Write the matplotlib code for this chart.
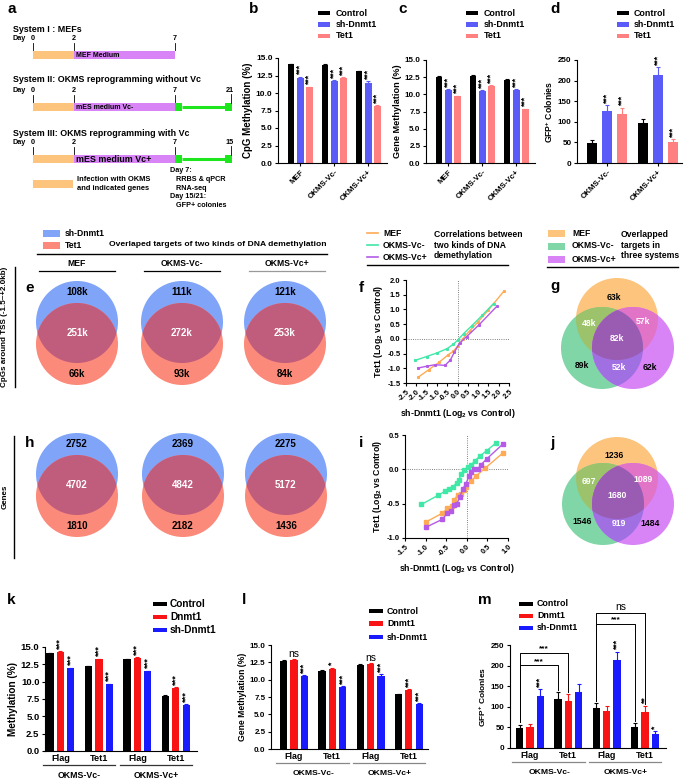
import numpy as np
import matplotlib
matplotlib.use("Agg")
import matplotlib.pyplot as plt
from matplotlib.patches import Circle, Rectangle, Polygon
import matplotlib.transforms as mtransforms

plt.rcParams.update({
    "font.family": ["Liberation Sans", "DejaVu Sans"],
    "font.weight": "bold",
    "axes.labelweight": "bold",
    "axes.linewidth": 0.8,
    "mathtext.fontset": "custom",
    "mathtext.rm": "Liberation Sans:bold",
    "mathtext.bf": "Liberation Sans:bold",
    "mathtext.it": "Liberation Sans:bold",
    "mathtext.default": "bf",
    "xtick.major.size": 2.5, "ytick.major.size": 2.5,
    "xtick.major.width": 0.8, "ytick.major.width": 0.8,
    "xtick.labelsize": 5.5, "ytick.labelsize": 5.5,
    "xtick.major.pad": 1.5, "ytick.major.pad": 1.5,
})

# ---------------- data ----------------
# a: schematic
a_titles = ["System I : MEFs", "System II: OKMS reprogramming without Vc",
            "System III: OKMS reprogramming with Vc"]
a_media = ["MEF Medium", "mES medium Vc-", "mES medium Vc+"]
a_days = [0, 2, 7]
a_end_day = [None, 21, 15]

# b: CpG methylation (%)
b_groups = ["MEF", "OKMS-Vc-", "OKMS-Vc+"]
b_ctrl = [14.1, 14.0, 13.1]
b_sh = [12.2, 11.7, 11.5]
b_tet = [10.8, 12.1, 8.1]
b_err = [[0.1, 0.1, 0.1], [0.12, 0.12, 0.15], [0.1, 0.12, 0.12]]

# c: gene methylation (%)
c_ctrl = [12.5, 12.6, 12.1]
c_sh = [10.6, 10.5, 10.6]
c_tet = [9.7, 11.2, 7.8]
c_err = [[0.2, 0.15, 0.15], [0.15, 0.12, 0.12], [0.1, 0.15, 0.1]]

# d: GFP+ colonies
d_groups = ["OKMS-Vc-", "OKMS-Vc+"]
d_ctrl = [48, 98]
d_sh = [127, 213]
d_tet = [120, 50]
d_err = [[8, 10], [13, 20], [14, 8]]

# e / h: two-set venns (sh-Dnmt1 only, both, Tet1 only)
venn_systems = ["MEF", "OKMS-Vc-", "OKMS-Vc+"]
e_sh_only = ["108k", "111k", "121k"]
e_both = ["251k", "272k", "253k"]
e_tet_only = ["66k", "93k", "84k"]
h_sh_only = ["2752", "2369", "2275"]
h_both = ["4702", "4842", "5172"]
h_tet_only = ["1810", "2182", "1436"]

# g / j: three-set venns
# order: MEF only, MEF&Vc-, MEF&Vc+, all, Vc- only, Vc-&Vc+, Vc+ only
g_counts = ["63k", "48k", "57k", "82k", "89k", "52k", "62k"]
j_counts = ["1236", "697", "1089", "1680", "1546", "919", "1484"]

# f: correlation CpGs
f_mef_x = [-1.9, -1.4, -0.9, -0.45, -0.2, 0.0, 0.25, 0.6, 1.0, 1.5, 2.25]
f_mef_y = [-1.3, -1.05, -0.8, -0.54, -0.42, -0.25, 0.0, 0.28, 0.58, 0.98, 1.62]
f_vcm_x = [-2.05, -1.5, -1.0, -0.5, -0.2, 0.0, 0.3, 0.7, 1.2, 1.75]
f_vcm_y = [-0.73, -0.6, -0.48, -0.33, -0.18, -0.05, 0.18, 0.45, 0.8, 1.2]
f_vcp_x = [-1.9, -1.5, -1.1, -0.6, -0.35, -0.15, 0.1, 0.45, 1.05, 1.9]
f_vcp_y = [-0.99, -0.93, -0.88, -0.9, -0.72, -0.45, -0.15, 0.08, 0.48, 1.1]

# i: correlation genes
i_mef_x = [-1.0, -0.6, -0.47, -0.37, -0.3, -0.22, -0.15, -0.08, -0.02, 0.1, 0.22, 0.45, 0.88]
i_mef_y = [-0.77, -0.64, -0.57, -0.53, -0.44, -0.37, -0.36, -0.3, -0.25, -0.17, -0.1, 0.02, 0.24]
i_vcm_x = [-1.1, -0.7, -0.53, -0.42, -0.33, -0.25, -0.19, -0.14, -0.06, 0.02, 0.1, 0.19, 0.31, 0.48, 0.7]
i_vcm_y = [-0.51, -0.38, -0.32, -0.28, -0.25, -0.2, -0.16, -0.07, -0.01, 0.03, 0.06, 0.12, 0.19, 0.27, 0.38]
i_vcp_x = [-0.98, -0.6, -0.47, -0.38, -0.3, -0.24, -0.17, -0.1, -0.02, 0.05, 0.1, 0.18, 0.26, 0.35, 0.48, 0.88]
i_vcp_y = [-0.84, -0.73, -0.64, -0.61, -0.52, -0.5, -0.4, -0.29, -0.21, -0.1, -0.04, 0.0, 0.0, 0.07, 0.15, 0.37]

# k / l / m
klm_groups = ["Flag", "Tet1", "Flag", "Tet1"]
klm_systems = ["OKMS-Vc-", "OKMS-Vc+"]
k_ctrl = [14.1, 12.2, 13.2, 8.0]
k_dn = [14.3, 13.2, 13.4, 9.1]
k_sh = [11.9, 9.6, 11.5, 6.7]
k_err = [[0.1, 0.1, 0.1, 0.1], [0.12, 0.12, 0.12, 0.1], [0.1, 0.1, 0.1, 0.08]]
l_ctrl = [12.7, 11.2, 12.1, 7.9]
l_dn = [12.8, 11.5, 12.3, 8.5]
l_sh = [10.5, 8.9, 10.6, 6.5]
l_err = [[0.2, 0.15, 0.15, 0.1], [0.2, 0.2, 0.15, 0.15], [0.15, 0.12, 0.15, 0.1]]
m_ctrl = [48, 119, 98, 51]
m_dn = [51, 115, 90, 87]
m_sh = [127, 135, 213, 34]
m_err = [[9, 16, 11, 9], [7, 15, 13, 16], [15, 20, 21, 7]]
# brackets: (group a, series a, group b, series b, height, label)
m_brackets = [(0, 0, 1, 0, 201, "***"), (0, 0, 1, 1, 231, "***"),
              (2, 0, 3, 0, 301, "***"), (2, 0, 3, 1, 328, "ns")]

# colours
SH_BLUE = "#5b5bf7"
TET = "#ff8080"
RED = "#f81414"
BLUE = "#1a1aff"
VB, VS, VM = "#80a4f8", "#fb8a7a", "#c05c7c"
VO, VG, VP = "#fcc47c", "#80d6a6", "#d884f6"
OG, OP, GP, OGP = "#9cc26c", "#e274c8", "#a070e2", "#9a5cb2"
LO, LG, LP = "#ffaa55", "#40e8a8", "#b45ae6"

W, H = 685, 780
fig = plt.figure(figsize=(W / 100, H / 100), dpi=100)

# overlay in pixel coordinates for schematic, venns and labels
ov = fig.add_axes([0, 0, 1, 1])
ov.set_xlim(0, W)
ov.set_ylim(H, 0)
ov.axis("off")


def add_px(l, t, r, b):
    ax = fig.add_axes([l / W, 1 - b / H, (r - l) / W, (b - t) / H])
    ax.set_facecolor("none")
    ax.spines["top"].set_visible(False)
    ax.spines["right"].set_visible(False)
    return ax


def letter(x, y, s):
    ov.text(x, y, s, fontsize=11, fontweight="bold", va="baseline", ha="left")


def legend_px(x, ys, labels, colors, tx, w=12, h=4.5, fs=6, line=False):
    for y, lab, col in zip(ys, labels, colors):
        if line:
            ov.plot([x, x + w], [y, y], color=col, lw=1.2)
        else:
            ov.add_patch(Rectangle((x, y - h / 2), w, h, fc=col, ec="none"))
        ov.text(tx, y, lab, va="center", ha="left", fontsize=fs)


def bar_panel(ax, series, errs, colors, sigs, pitch, width, sig_fs=6.3):
    x = np.arange(len(series[0]))
    n = len(series)
    for k in range(n):
        pos = x + (k - (n - 1) / 2) * pitch
        vals = np.array(series[k], float)
        err = np.array(errs[k], float)
        ax.bar(pos, vals, width, color=colors[k], zorder=2,
               yerr=[np.zeros_like(err), err], ecolor=colors[k],
               error_kw=dict(elinewidth=0.8, capsize=1.5, capthick=0.8))
        if sigs[k] is None:
            continue
        for p, v, e, s in zip(pos, vals, err, sigs[k]):
            if not s:
                continue
            if s == "ns":
                ax.annotate(s, (p, v + e), xytext=(0, 0), textcoords="offset points",
                            ha="center", va="bottom", fontsize=7.5, fontweight="normal")
            else:
                ax.annotate(s, (p, v + e), xytext=(0, 1), textcoords="offset points",
                            ha="center", va="bottom", fontsize=sig_fs, rotation=90)
    return x


def pct_axis(ax, fs):
    ticks = np.arange(0, 15.1, 2.5)
    ax.set_ylim(0, 15)
    ax.set_yticks(ticks)
    ax.set_yticklabels([f"{v:.1f}" for v in ticks], fontsize=fs)


# ---------------- panel a ----------------
letter(8, 13, "a")
day_px = lambda d: 33 + 20.3 * d
rows = [(29, 39, 51), (80, 91, 103), (133, 143, 155)]
for (ty, dy, by), title, med, end in zip(rows, a_titles, a_media, a_end_day):
    ov.text(13, ty, title, fontsize=6.4, va="center")
    ov.text(13, dy, "Day", fontsize=5.2, va="center")
    for d in a_days:
        ov.text(day_px(d), dy, str(d), fontsize=5.2, va="center", ha="center")
        ov.plot([day_px(d), day_px(d)], [dy + 4, by - 1], color="k", lw=0.6)
    ov.add_patch(Rectangle((day_px(0), by), day_px(2) - day_px(0), 8, fc=VO, ec="none"))
    ov.add_patch(Rectangle((day_px(2), by), day_px(7) - day_px(2), 8, fc=VP, ec="none"))
    big = med.endswith("+")
    ov.text(day_px(2) + 2, by + 4.3, med, fontsize=6.4 if big else 5.0, va="center")
    if end is not None:
        g0 = day_px(7)
        ov.add_patch(Rectangle((g0, by), 7, 8, fc="#1ee61e", ec="none"))
        ov.plot([g0 + 7, 226], [by + 4, by + 4], color="#1ee61e", lw=2.2, solid_capstyle="butt")
        ov.add_patch(Rectangle((225, by), 7, 8, fc="#1ee61e", ec="none"))
        ov.text(230, dy - 1, str(end), fontsize=5.2, va="center", ha="center")
        ov.plot([231, 231], [dy + 3, by], color="k", lw=0.6)
ov.add_patch(Rectangle((33, 180), 40, 8, fc=VO, ec="none"))
ov.text(77, 184, "Infection with OKMS\nand indicated genes", fontsize=5.4, va="center",
        linespacing=1.3)
ov.text(170, 188, "Day 7:\n   RRBS & qPCR\n   RNA-seq\nDay 15/21:\n   GFP+ colonies",
        fontsize=5.2, va="center", linespacing=1.35)

# ---------------- panels b, c, d ----------------
for (lx, rx, tx, lab) in [(249, 318, 336, "b"), (398, 466, 484, "c"), (550, 617, 634, "d")]:
    letter(lx, 13, lab)
    legend_px(rx, [13, 24.5, 36], ["Control", "sh-Dnmt1", "Tet1"], ["k", SH_BLUE, TET], tx,
              fs=6.4)

stars3 = ["***"] * 3
ax_b = add_px(278, 58, 387, 163)
x = bar_panel(ax_b, [b_ctrl, b_sh, b_tet], b_err, ["k", SH_BLUE, TET],
              [None, stars3, stars3], 0.27, 0.2)
ax_b.set_xlim(-0.65, 2.55)
pct_axis(ax_b, 6)
ax_b.set_xticks(x)
ax_b.set_xticklabels(b_groups, rotation=45, ha="right", rotation_mode="anchor", fontsize=5.7)
ax_b.set_ylabel("CpG Methylation (%)", fontsize=7, labelpad=2)

ax_c = add_px(426, 60, 535, 163)
x = bar_panel(ax_c, [c_ctrl, c_sh, c_tet], c_err, ["k", SH_BLUE, TET],
              [None, stars3, stars3], 0.27, 0.2)
ax_c.set_xlim(-0.65, 2.55)
pct_axis(ax_c, 5.8)
ax_c.set_xticks(x)
ax_c.set_xticklabels(b_groups, rotation=45, ha="right", rotation_mode="anchor", fontsize=5.7)
ax_c.set_ylabel("Gene Methylation (%)", fontsize=6.6, labelpad=2)

ax_d = add_px(577, 60, 682, 163)
x = bar_panel(ax_d, [d_ctrl, d_sh, d_tet], d_err, ["k", SH_BLUE, TET],
              [None, ["***"] * 2, ["***"] * 2], 0.29, 0.2)
ax_d.set_xlim(-0.59, 1.47)
ax_d.set_ylim(0, 250)
ax_d.set_yticks(np.arange(0, 251, 50))
ax_d.tick_params(axis="y", labelsize=5.8)
ax_d.set_xticks(x)
ax_d.set_xticklabels(d_groups, rotation=45, ha="right", rotation_mode="anchor", fontsize=5.7)
ax_d.set_ylabel("GFP$^{+}$ Colonies", fontsize=6.2, labelpad=2)

# ---------------- e / h header ----------------
legend_px(43, [233.5, 245], ["sh-Dnmt1", "Tet1"], [VB, VS], 65, w=17, h=7, fs=6.2)
ov.text(218, 244, "Overlaped targets of two kinds of DNA demethylation", fontsize=6.1,
        ha="center", va="center")
ov.plot([37, 327], [254, 254], color="k", lw=1.0)
for cx, name, col in zip([77, 182, 287], venn_systems, ["k", "k", "#999999"]):
    ov.text(cx, 263, name, fontsize=6.2, ha="center", va="center")
    ov.plot([cx - 38, cx + 38], [271, 271], color=col, lw=0.9)
ov.plot([15, 15], [267, 387], color="k", lw=1.0)
ov.text(5, 327, "CpGs around TSS (-1.5~+2.0kb)", fontsize=5.8, rotation=90,
        ha="center", va="center")
ov.plot([14, 14], [436, 558], color="k", lw=1.0)
ov.text(5, 497, "Genes", fontsize=5.8, rotation=90, ha="center", va="center")
letter(25, 292, "e")
letter(25, 447, "h")


def venn2(cx, cy_top, cy_bot, r, top_lab, mid_lab, bot_lab):
    top = Circle((cx, cy_top), r, fc=VB, ec="none")
    bot = Circle((cx, cy_bot), r, fc=VS, ec="none")
    ov.add_patch(top)
    ov.add_patch(bot)
    mid = Circle((cx, cy_bot), r, fc=VM, ec="none")
    ov.add_patch(mid)
    mid.set_clip_path(top)
    ov.text(cx, cy_top - 30, top_lab, fontsize=7, ha="center", va="center")
    ov.text(cx, (cy_top + cy_bot) / 2, mid_lab, fontsize=7, ha="center", va="center",
            color="white")
    ov.text(cx, cy_bot + 30, bot_lab, fontsize=7, ha="center", va="center")


for cx, a1, a2, a3 in zip([77, 182, 285], e_sh_only, e_both, e_tet_only):
    venn2(cx, 322, 344, 41, a1, a2, a3)
for cx, a1, a2, a3 in zip([77, 183, 286], h_sh_only, h_both, h_tet_only):
    venn2(cx, 474, 496, 41, a1, a2, a3)

# ---------------- f / i ----------------
legend_px(367, [233, 245, 257], venn_systems, [LO, LG, LP], 383, w=11, fs=6.2, line=True)
ov.text(434, 245, "Correlations between\ntwo kinds of DNA\ndemethylation", fontsize=6.2,
        va="center", linespacing=1.15)
ov.plot([367, 508], [265, 265], color="k", lw=1.0)
letter(359, 292, "f")
letter(359, 447, "i")


def corr_panel(ax, lines, xt, yt, ms):
    ax.axhline(0, color="#555555", lw=0.6, ls=":", zorder=1)
    ax.axvline(0, color="#555555", lw=0.6, ls=":", zorder=1)
    for xs, ys, col in lines:
        ax.plot(xs, ys, color=col, lw=1.0, marker="s", ms=ms, zorder=3)
    ax.set_xlim(xt[0], xt[-1])
    ax.set_ylim(yt[0], yt[-1])
    ax.set_xticks(xt)
    ax.set_xticklabels([f"{v:.1f}" for v in xt], rotation=45, ha="right",
                       rotation_mode="anchor", fontsize=5.3)
    ax.set_yticks(yt)
    ax.set_yticklabels([f"{v:.1f}" for v in yt], fontsize=5.5)
    ax.set_xlabel("sh-Dnmt1 (Log$_2$ vs Control)", fontsize=6.3, labelpad=3)
    ax.set_ylabel("Tet1 (Log$_2$ vs Control)", fontsize=6.3, labelpad=2)


ax_f = add_px(406, 280, 509, 383)
corr_panel(ax_f, [(f_mef_x, f_mef_y, LO), (f_vcm_x, f_vcm_y, LG), (f_vcp_x, f_vcp_y, LP)],
           np.arange(-2.5, 2.51, 0.5), np.arange(-1.5, 2.01, 0.5), 1.2)
ax_i = add_px(405, 435, 508, 538)
corr_panel(ax_i, [(i_mef_x, i_mef_y, LO), (i_vcm_x, i_vcm_y, LG), (i_vcp_x, i_vcp_y, LP)],
           np.arange(-1.5, 1.01, 0.5), np.arange(-1.0, 0.51, 0.5), 2.2)

# ---------------- g / j ----------------
legend_px(548, [233, 246, 259], venn_systems, [VO, VG, VP], 572, w=17, h=7, fs=6.2)
ov.text(621, 245, "Overlapped\ntargets in\nthree systems", fontsize=6.2, va="center",
        linespacing=1.15)
ov.plot([547, 678], [267, 267], color="k", lw=1.0)
letter(550, 290, "g")
letter(550, 447, "j")


def lens_patch(c1, c2, r, n=400):
    t = np.linspace(0, 2 * np.pi, n, endpoint=False)
    p1 = np.c_[c1[0] + r * np.cos(t), c1[1] + r * np.sin(t)]
    p2 = np.c_[c2[0] + r * np.cos(t), c2[1] + r * np.sin(t)]
    pts = np.vstack([p1[np.hypot(*(p1 - c2).T) <= r], p2[np.hypot(*(p2 - c1).T) <= r]])
    m = pts.mean(0)
    pts = pts[np.argsort(np.arctan2(pts[:, 1] - m[1], pts[:, 0] - m[0]))]
    return Polygon(pts, closed=True, transform=ov.transData)


def venn3(co, cg, cp, r, labs):
    po = Circle(co, r, fc=VO, ec="none")
    pg = Circle(cg, r, fc=VG, ec="none")
    pp = Circle(cp, r, fc=VP, ec="none")
    for p in (po, pg, pp):
        ov.add_patch(p)
    for c, fc, clip in [(cg, OG, po), (cp, OP, po), (cp, GP, pg)]:
        q = Circle(c, r, fc=fc, ec="none")
        ov.add_patch(q)
        q.set_clip_path(clip)
    q = Circle(cp, r, fc=OGP, ec="none")
    ov.add_patch(q)
    q.set_clip_path(lens_patch(co, cg, r))
    ox, oy = co
    gy = cg[1]
    spots = [(ox - 3, oy - 22, "k"), (ox - 28, (oy + gy) / 2 - 10, "w"),
             (ox + 26, (oy + gy) / 2 - 12, "w"), (ox, (oy + gy) / 2 + 5, "w"),
             (ox - 35, gy + 18, "k"), (ox + 2, gy + 19, "w"), (ox + 33, gy + 20, "k")]
    for (tx, ty, col), s in zip(spots, labs):
        ov.text(tx, ty, s, fontsize=6.2, ha="center", va="center", color=col)


venn3((617, 319), (602, 348), (633, 348), 41, g_counts)
venn3((617, 478), (603, 504), (633, 504), 41, j_counts)

# ---------------- k / l / m ----------------
letter(7, 604, "k")
letter(242, 604, "l")
letter(478, 604, "m")
klm_labels = ["Control", "Dnmt1", "sh-Dnmt1"]
klm_cols = ["k", RED, BLUE]
legend_px(153, [604, 617, 630], klm_labels, klm_cols, 170, w=14, fs=7.3)
legend_px(369, [611, 623.5, 637], klm_labels, klm_cols, 387, w=14, fs=6.4)
legend_px(519, [604, 616, 628], klm_labels, klm_cols, 537, w=14, fs=6.4)


def klm_axes(ax, xlim, line_col, fs):
    ax.set_xlim(*xlim)
    ax.set_xticks(np.arange(4))
    ax.set_xticklabels(klm_groups, fontsize=fs)
    ax.tick_params(axis="x", length=0, pad=2)
    tr = mtransforms.blended_transform_factory(ax.transData, ax.transAxes)
    for g0, name in zip([0, 2], klm_systems):
        ax.plot([g0 - 0.46, g0 + 1.43], [-0.135, -0.135], color=line_col, lw=0.9,
                transform=tr, clip_on=False)
        ax.text(g0 + 0.5, -0.235, name, fontsize=fs - 0.3, ha="center", va="center",
                transform=tr)


ax_k = add_px(45, 647, 197, 751)
bar_panel(ax_k, [k_ctrl, k_dn, k_sh], k_err, klm_cols, [None, ["***"] * 4, ["***"] * 4],
          0.27, 0.19, sig_fs=6.8)
klm_axes(ax_k, (-0.4, 3.55), "#333333", 6.6)
pct_axis(ax_k, 6.8)
ax_k.set_ylabel("Methylation (%)", fontsize=7.2, labelpad=2)

ax_l = add_px(271, 645, 428, 749)
bar_panel(ax_l, [l_ctrl, l_dn, l_sh], l_err, klm_cols,
          [None, ["ns", "*", "ns", "***"], ["***"] * 4], 0.27, 0.19)
klm_axes(ax_l, (-0.6, 3.5), "#888888", 6.4)
pct_axis(ax_l, 5.8)
ax_l.set_ylabel("Gene Methylation (%)", fontsize=6.2, labelpad=2)

ax_m = add_px(510, 645, 666, 748)
xm = bar_panel(ax_m, [m_ctrl, m_dn, m_sh], m_err, klm_cols,
               [None, ["", "", "", "**"], ["***", "", "***", "*"]], 0.27, 0.19)
klm_axes(ax_m, (-0.52, 3.55), "#888888", 6.4)
ax_m.set_ylim(0, 250)
ax_m.set_yticks(np.arange(0, 251, 50))
ax_m.tick_params(axis="y", labelsize=5.8)
ax_m.set_ylabel("GFP$^{+}$ Colonies", fontsize=6.0, labelpad=2)
m_series = [m_ctrl, m_dn, m_sh]
for ga, sa, gb, sb, yh, lab in m_brackets:
    x1 = xm[ga] + (sa - 1) * 0.27
    x2 = xm[gb] + (sb - 1) * 0.27
    y1 = m_series[sa][ga] + m_err[sa][ga] + 5
    y2 = m_series[sb][gb] + m_err[sb][gb] + 5
    ax_m.plot([x1, x1, x2, x2], [y1, yh, yh, y2], color="k", lw=0.7, clip_on=False)
    if lab == "ns":
        ax_m.text((x1 + x2) / 2, yh + 2, lab, fontsize=7.5, fontweight="normal",
                  ha="center", va="bottom")
    else:
        ax_m.text((x1 + x2) / 2, yh + 1, lab, fontsize=6, ha="center", va="bottom")

fig.savefig("out.png", dpi=100)
